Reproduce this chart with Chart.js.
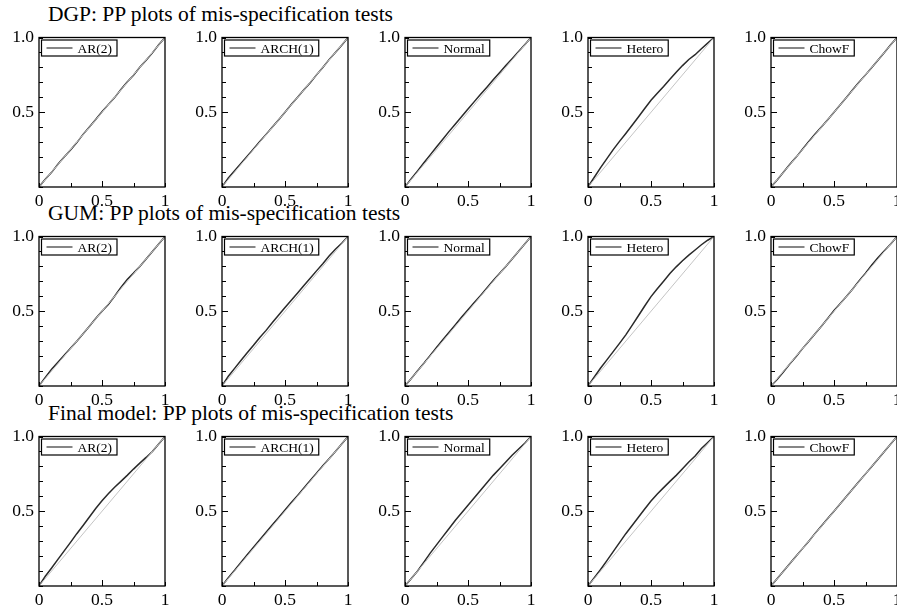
<!DOCTYPE html>
<html>
<head>
<meta charset="utf-8">
<title>PP plots of mis-specification tests</title>
<script src="https://cdn.jsdelivr.net/npm/chart.js@4/dist/chart.umd.min.js"></script>
<style>
  html, body { margin: 0; padding: 0; background: #fff; }
  body { width: 897px; height: 610px; overflow: hidden; position: relative; font-family: 'Liberation Serif', 'DejaVu Serif', serif; }
  .row-title { position: absolute; left: 48px; font-size: 21.5px; line-height: 22px; color: #000; white-space: nowrap; }
  .panel { position: absolute; }
</style>
</head>
<body>
<script>
/* ── Data ────────────────────────────────────────────────── */

const rowTitles = [
  'DGP: PP plots of mis-specification tests',
  'GUM: PP plots of mis-specification tests',
  'Final model: PP plots of mis-specification tests',
];
const testNames = ['AR(2)', 'ARCH(1)', 'Normal', 'Hetero', 'ChowF'];

// nominal p (x axis)
const ppGrid = [0, .05, .10, .15, .20, .25, .30, .35, .40, .45, .50, .55, .60, .65, .70, .75, .80, .85, .90, .95, 1];

// empirical p, DGP row
const dgpAr    = [0, .052, .098, .152, .201, .248, .297, .352, .401, .452, .503, .551, .598, .652, .702, .748, .801, .848, .897, .951, 1];
const dgpArch  = [0, .060, .108, .158, .206, .255, .304, .352, .402, .450, .500, .552, .600, .650, .698, .750, .800, .852, .900, .948, 1];
const dgpNorm  = [0, .055, .108, .162, .215, .268, .320, .372, .422, .472, .522, .571, .620, .668, .717, .765, .813, .858, .905, .952, 1];
const dgpHet   = [0, .065, .130, .190, .250, .305, .358, .413, .468, .525, .580, .627, .672, .720, .768, .812, .853, .885, .925, .962, 1];
const dgpChow  = [0, .048, .100, .152, .200, .252, .305, .354, .402, .450, .500, .550, .600, .652, .702, .750, .800, .850, .900, .952, 1];

// empirical p, GUM row
const gumAr    = [0, .058, .112, .158, .205, .252, .300, .350, .400, .452, .500, .545, .600, .660, .712, .755, .800, .850, .900, .950, 1];
const gumArch  = [0, .065, .118, .170, .222, .272, .325, .372, .425, .475, .525, .574, .622, .672, .720, .770, .818, .870, .915, .955, 1];
const gumNorm  = [0, .050, .102, .152, .205, .258, .310, .360, .410, .462, .510, .558, .605, .655, .705, .752, .800, .850, .900, .950, 1];
const gumHet   = [0, .060, .120, .175, .230, .285, .342, .405, .470, .535, .598, .650, .700, .752, .797, .838, .875, .910, .945, .975, 1];
const gumChow  = [0, .045, .095, .148, .198, .250, .300, .350, .400, .452, .505, .552, .600, .650, .705, .755, .810, .860, .905, .950, 1];

// empirical p, final model row
const finAr    = [0, .065, .120, .178, .235, .292, .350, .405, .462, .518, .570, .617, .660, .700, .740, .782, .822, .860, .900, .950, 1];
const finArch  = [0, .055, .105, .158, .210, .260, .310, .360, .410, .458, .508, .558, .605, .655, .705, .755, .805, .852, .900, .950, 1];
const finNorm  = [0, .050, .100, .160, .220, .275, .330, .385, .440, .490, .540, .590, .640, .690, .740, .785, .830, .875, .915, .955, 1];
const finHet   = [0, .055, .110, .170, .230, .290, .350, .405, .460, .515, .568, .615, .658, .700, .740, .785, .830, .870, .920, .960, 1];
const finChow  = [0, .050, .100, .150, .200, .250, .300, .352, .402, .452, .500, .550, .600, .650, .700, .750, .800, .850, .900, .950, 1];

const rowSeries = [
  [dgpAr, dgpArch, dgpNorm, dgpHet, dgpChow],
  [gumAr, gumArch, gumNorm, gumHet, gumChow],
  [finAr, finArch, finNorm, finHet, finChow],
];

// 45-degree reference line
const diagX = [0, 1];
const diagY = [0, 1];

// tick labels
const xTickValues = [0, 0.5, 1];
const xTickLabels = ['0', '0.5', '1'];
const yTickValues = [0.5, 1];
const yTickLabels = ['0.5', '1.0'];

/* ── Layout ──────────────────────────────────────────────── */

const colLeft = [39, 222, 405, 588, 771];
const rowTop = [34, 233, 433];
const PLOT_W = 126, PLOT_H = 153;
const PAD_L = 40, PAD_T = 12, PAD_R = 12, PAD_B = 26;
const SERIF = "'Liberation Serif', 'DejaVu Serif', serif";

/* ── Helpers ─────────────────────────────────────────────── */

function lookupLabel(values, labels, v) {
  const i = values.findIndex(t => Math.abs(t - v) < 1e-9);
  return i >= 0 ? labels[i] : '';
}

function isNear(v, target) {
  return Math.abs(v - target) < 1e-9;
}

// frame, inward tick marks and boxed legend
const framePlugin = {
  id: 'ppFrame',
  afterDatasetsDraw(chart) {
    const { ctx, chartArea: a, scales: { x, y } } = chart;
    ctx.save();
    ctx.strokeStyle = '#000';
    ctx.lineWidth = 1.3;
    ctx.strokeRect(a.left, a.top, a.right - a.left, a.bottom - a.top);

    ctx.lineWidth = 1;
    ctx.beginPath();
    x.ticks.forEach(t => {
      const px = Math.round(x.getPixelForValue(t.value)) + 0.5;
      const len = isNear(t.value, 0.5) ? 6 : 4;
      ctx.moveTo(px, a.bottom);
      ctx.lineTo(px, a.bottom - len);
    });
    y.ticks.forEach(t => {
      const py = Math.round(y.getPixelForValue(t.value)) + 0.5;
      const len = isNear(t.value, 0.5) ? 6 : 4;
      ctx.moveTo(a.left, py);
      ctx.lineTo(a.left + len, py);
    });
    ctx.stroke();

    // legend box
    const label = chart.data.datasets[1].label;
    ctx.font = '13.5px ' + SERIF;
    const tw = ctx.measureText(label).width;
    const bx = a.left + 2.5, by = a.top + 2.5, bh = 16, bw = 37 + tw + 4;
    ctx.fillStyle = '#fff';
    ctx.fillRect(bx, by, bw, bh);
    ctx.strokeStyle = '#000';
    ctx.lineWidth = 1.2;
    ctx.strokeRect(bx, by, bw, bh);
    ctx.strokeStyle = '#444';
    ctx.lineWidth = 1.3;
    ctx.beginPath();
    ctx.moveTo(bx + 5, by + bh / 2);
    ctx.lineTo(bx + 31, by + bh / 2);
    ctx.stroke();
    ctx.fillStyle = '#000';
    ctx.textBaseline = 'middle';
    ctx.fillText(label, bx + 36, by + bh / 2 + 1);
    ctx.restore();
  },
};

function makePanel(row, col) {
  const holder = document.createElement('div');
  holder.className = 'panel';
  holder.style.left = (colLeft[col] - PAD_L) + 'px';
  holder.style.top = (rowTop[row] - PAD_T) + 'px';
  const canvas = document.createElement('canvas');
  canvas.width = PAD_L + PLOT_W + PAD_R;
  canvas.height = PAD_T + PLOT_H + PAD_B;
  holder.appendChild(canvas);
  document.body.appendChild(holder);

  const tickFont = { family: SERIF, size: 17.5 };
  const series = rowSeries[row][col];

  // eslint-disable-next-line no-undef
  new Chart(canvas.getContext('2d'), {
    type: 'line',
    data: {
      datasets: [
        {
          label: '45 degree',
          data: diagX.map((v, i) => ({ x: v, y: diagY[i] })),
          borderColor: '#c4c4c4',
          borderWidth: 1,
          pointRadius: 0,
          tension: 0,
        },
        {
          label: testNames[col],
          data: ppGrid.map((v, i) => ({ x: v, y: series[i] })),
          borderColor: '#2a2a2a',
          borderWidth: 1.5,
          pointRadius: 0,
          tension: 0,
        },
      ],
    },
    options: {
      responsive: false,
      animation: false,
      events: [],
      layout: { padding: { left: 0, top: PAD_T, right: PAD_R, bottom: 0 } },
      plugins: { legend: { display: false }, tooltip: { enabled: false } },
      scales: {
        x: {
          type: 'linear',
          min: 0,
          max: 1,
          afterFit(s) { s.height = PAD_B; },
          grid: { display: false, drawTicks: false },
          border: { display: false },
          ticks: {
            stepSize: 0.25,
            padding: 4,
            maxRotation: 0,
            autoSkip: false,
            color: '#000',
            font: tickFont,
            callback: v => lookupLabel(xTickValues, xTickLabels, v),
          },
        },
        y: {
          type: 'linear',
          min: 0,
          max: 1,
          afterFit(s) { s.width = PAD_L; },
          grid: { display: false, drawTicks: false },
          border: { display: false },
          ticks: {
            stepSize: 0.1,
            padding: 5,
            autoSkip: false,
            color: '#000',
            font: tickFont,
            callback: v => lookupLabel(yTickValues, yTickLabels, v),
          },
        },
      },
    },
    plugins: [framePlugin],
  });
}

rowTitles.forEach((title, r) => {
  const el = document.createElement('div');
  el.className = 'row-title';
  el.textContent = title;
  el.style.top = (rowTop[r] - 31) + 'px';
  document.body.appendChild(el);
});

for (let r = 0; r < 3; r++) {
  for (let c = 0; c < 5; c++) makePanel(r, c);
}
</script>
</body>
</html>
